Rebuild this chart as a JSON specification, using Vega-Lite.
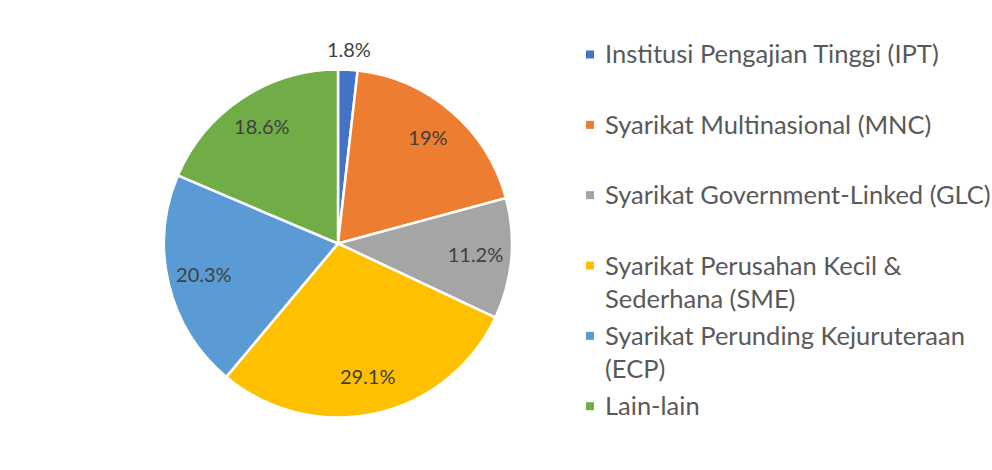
{
  "$schema": "https://vega.github.io/schema/vega-lite/v6.json",
  "background": "white",
  "padding": {"left": 106, "top": 40, "right": 0, "bottom": 0},
  "data": {
    "values": [
      {"i": 1, "category": "Institusi Pengajian Tinggi (IPT)", "pct": 1.8, "label": "1.8%"},
      {"i": 2, "category": "Syarikat Multinasional (MNC)", "pct": 19, "label": "19%"},
      {"i": 3, "category": "Syarikat Government-Linked (GLC)", "pct": 11.2, "label": "11.2%"},
      {"i": 4, "category": "Syarikat Perusahan Kecil &\nSederhana (SME)", "pct": 29.1, "label": "29.1%"},
      {"i": 5, "category": "Syarikat Perunding Kejuruteraan\n(ECP)", "pct": 20.3, "label": "20.3%"},
      {"i": 6, "category": "Lain-lain", "pct": 18.6, "label": "18.6%"}
    ]
  },
  "spacing": 10,
  "hconcat": [
    {
      "width": 464,
      "height": 407,
      "layer": [
        {
          "mark": {"type": "arc", "radius": 174, "stroke": "white", "strokeWidth": 2.5},
          "encoding": {
            "theta": {"field": "pct", "type": "quantitative", "stack": true},
            "order": {"field": "i", "type": "quantitative"},
            "color": {
              "field": "category", "type": "nominal", "legend": null,
              "scale": {
                "domain": ["Institusi Pengajian Tinggi (IPT)", "Syarikat Multinasional (MNC)", "Syarikat Government-Linked (GLC)", "Syarikat Perusahan Kecil &\nSederhana (SME)", "Syarikat Perunding Kejuruteraan\n(ECP)", "Lain-lain"],
                "range": ["#4472C4", "#ED7D31", "#A5A5A5", "#FFC000", "#5B9BD5", "#70AD47"]
              }
            }
          }
        },
        {
          "mark": {"type": "text", "radius": 138, "font": "Lato", "fontSize": 20, "color": "#404040"},
          "encoding": {
            "theta": {"field": "pct", "type": "quantitative", "stack": true},
            "order": {"field": "i", "type": "quantitative"},
            "text": {"condition": {"test": "datum.pct >= 5", "field": "label", "type": "nominal"}, "value": ""}
          }
        },
        {
          "mark": {"type": "text", "radius": 193, "font": "Lato", "fontSize": 20, "color": "#404040"},
          "encoding": {
            "theta": {"field": "pct", "type": "quantitative", "stack": true},
            "order": {"field": "i", "type": "quantitative"},
            "text": {"condition": {"test": "datum.pct < 5", "field": "label", "type": "nominal"}, "value": ""}
          }
        }
      ]
    },
    {
      "width": 20,
      "height": 407,
      "layer": [
        {
          "mark": {"type": "square", "size": 64, "filled": true, "opacity": 1},
          "encoding": {
            "y": {"field": "category", "type": "nominal", "sort": null, "axis": null, "scale": {"type": "point", "padding": 0.393, "align": 0.262}},
            "color": {
              "field": "category", "type": "nominal", "legend": null,
              "scale": {
                "domain": ["Institusi Pengajian Tinggi (IPT)", "Syarikat Multinasional (MNC)", "Syarikat Government-Linked (GLC)", "Syarikat Perusahan Kecil &\nSederhana (SME)", "Syarikat Perunding Kejuruteraan\n(ECP)", "Lain-lain"],
                "range": ["#4472C4", "#ED7D31", "#A5A5A5", "#FFC000", "#5B9BD5", "#70AD47"]
              }
            }
          }
        },
        {
          "mark": {"type": "text", "align": "left", "baseline": "alphabetic", "dx": 15, "dy": 9, "font": "Lato", "fontSize": 25.5, "lineHeight": 33, "lineBreak": "\n", "color": "#595959"},
          "encoding": {
            "y": {"field": "category", "type": "nominal", "sort": null, "axis": null, "scale": {"type": "point", "padding": 0.393, "align": 0.262}},
            "text": {"field": "category", "type": "nominal"}
          }
        }
      ]
    }
  ],
  "config": {"view": {"stroke": null}}
}
